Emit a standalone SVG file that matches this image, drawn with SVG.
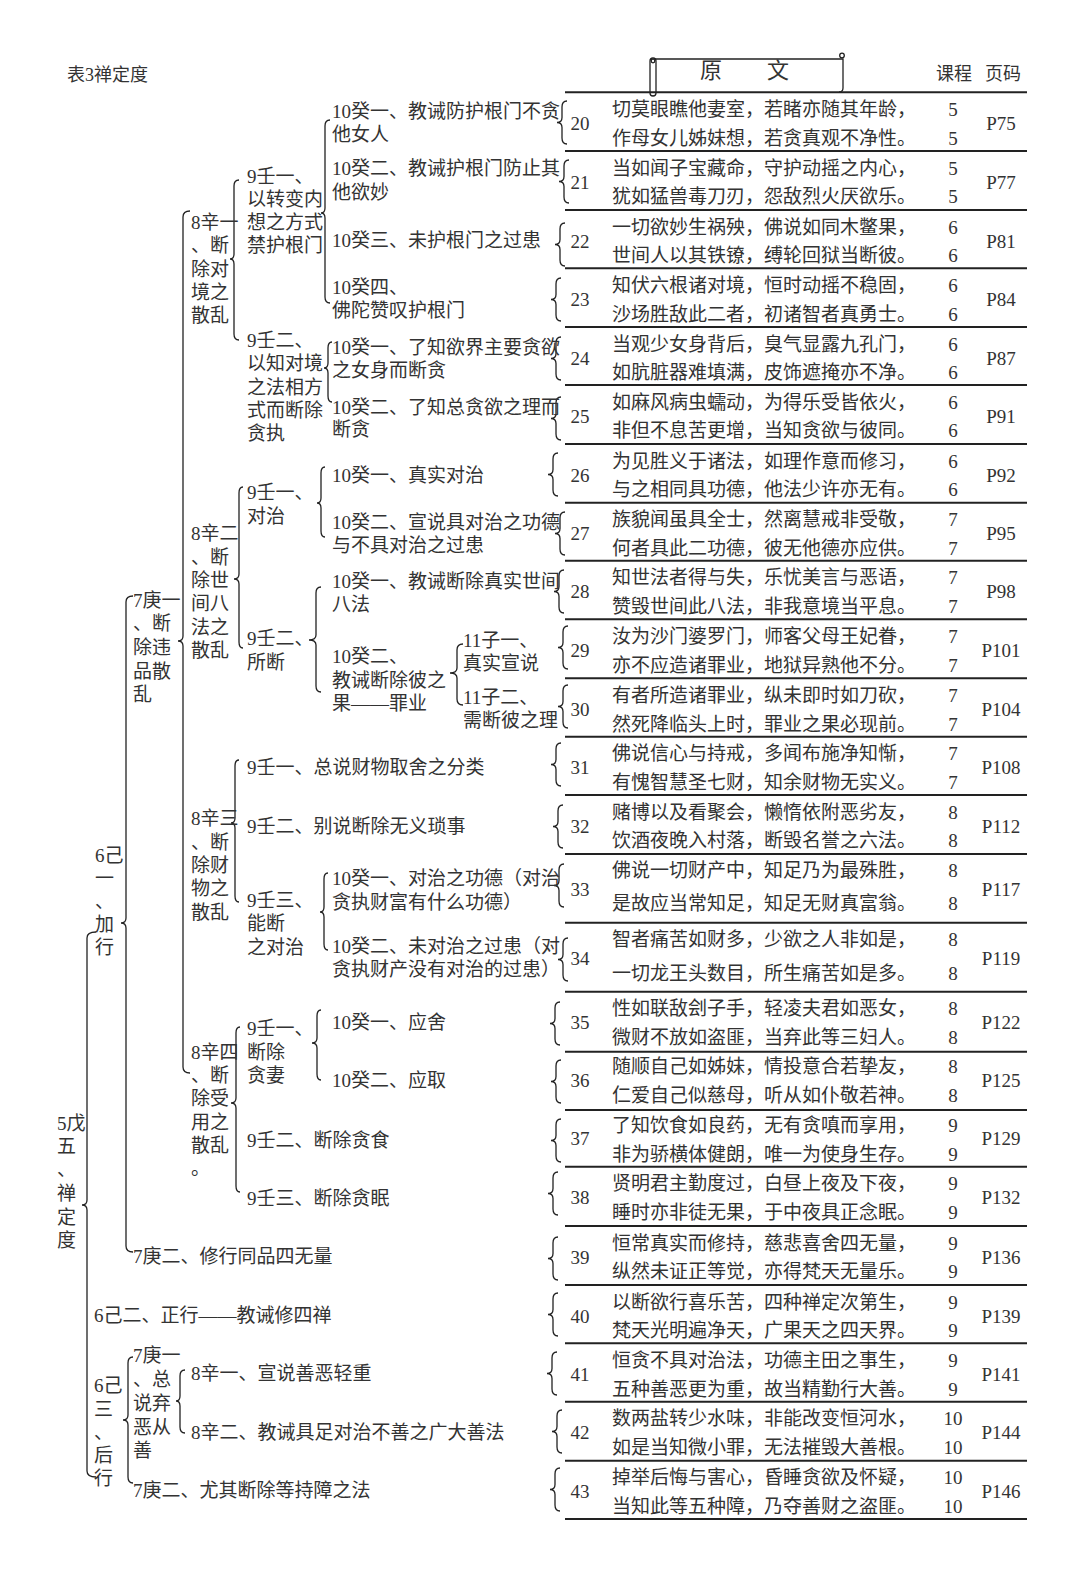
<svg xmlns="http://www.w3.org/2000/svg" width="1080" height="1572" viewBox="0 0 1080 1572">
<style>
text{font-family:"Liberation Serif","Noto Sans CJK SC",serif;fill:#333;font-size:19px}
.s{font-size:18px}
.v{font-size:19px}
.m{text-anchor:middle;font-size:19px}
.h{font-size:22px;text-anchor:middle}
.br{fill:none;stroke:#222;stroke-width:1.3}
.rl{stroke:#222;stroke-width:2}
</style>
<defs>
<path id="tb" class="br" d="M10,0 Q5,0 5,6 L5,16.5 Q5,21.5 0,21.5 Q5,21.5 5,26.5 L5,37 Q5,43 10,43"/>
</defs>
<rect width="1080" height="1572" fill="#fff"/>

<g id="title"><text class="s" x="67" y="81">表3禅定度</text></g>

<g id="header">
<path class="br" d="M655,59 H843 V88 Q843,92 839,92"/>
<circle cx="842" cy="55.5" r="2.3" class="br"/>
<rect x="650" y="58" width="6" height="38" rx="3" fill="#fff" stroke="#222" stroke-width="1.3"/>
<circle cx="653" cy="61" r="1.8" class="br"/>
<text class="h" x="711" y="78">原</text>
<text class="h" x="778" y="78">文</text>
<text class="s" x="936" y="80">课程</text>
<text class="s" x="985" y="80">页码</text>
</g>

<g id="rules">
<line class="rl" x1="565" y1="92.3" x2="1027" y2="92.3"/>
<line class="rl" x1="565" y1="151" x2="1027" y2="151"/>
<line class="rl" x1="565" y1="210" x2="1027" y2="210"/>
<line class="rl" x1="565" y1="268.3" x2="1027" y2="268.3"/>
<line class="rl" x1="565" y1="327" x2="1027" y2="327"/>
<line class="rl" x1="565" y1="385" x2="1027" y2="385"/>
<line class="rl" x1="565" y1="444" x2="1027" y2="444"/>
<line class="rl" x1="565" y1="502.7" x2="1027" y2="502.7"/>
<line class="rl" x1="565" y1="560.7" x2="1027" y2="560.7"/>
<line class="rl" x1="565" y1="619.3" x2="1027" y2="619.3"/>
<line class="rl" x1="565" y1="678.3" x2="1027" y2="678.3"/>
<line class="rl" x1="565" y1="736.7" x2="1027" y2="736.7"/>
<line class="rl" x1="565" y1="795" x2="1027" y2="795"/>
<line class="rl" x1="565" y1="854" x2="1027" y2="854"/>
<line class="rl" x1="565" y1="922.7" x2="1027" y2="922.7"/>
<line class="rl" x1="565" y1="991.7" x2="1027" y2="991.7"/>
<line class="rl" x1="565" y1="1051.7" x2="1027" y2="1051.7"/>
<line class="rl" x1="565" y1="1110" x2="1027" y2="1110"/>
<line class="rl" x1="565" y1="1166.7" x2="1027" y2="1166.7"/>
<line class="rl" x1="565" y1="1226" x2="1027" y2="1226"/>
<line class="rl" x1="565" y1="1285" x2="1027" y2="1285"/>
<line class="rl" x1="565" y1="1343.3" x2="1027" y2="1343.3"/>
<line class="rl" x1="565" y1="1401.7" x2="1027" y2="1401.7"/>
<line class="rl" x1="565" y1="1460.7" x2="1027" y2="1460.7"/>
<line class="rl" x1="565" y1="1519" x2="1027" y2="1519"/>
</g>

<g id="connectors">
<path class="br" d="M96,932 Q87,932 87,938 L87,1200 Q87,1205 82,1205 Q87,1205 87,1210 L87,1471 Q87,1477 96,1477"/>
<path class="br" d="M133,596 Q126,596 126,602 L126,918 Q126,923 121,923 Q126,923 126,928 L126,1246 Q126,1252 133,1252"/>
<path class="br" d="M133,1357 Q128,1357 128,1363 L128,1415 Q128,1420 123,1420 Q128,1420 128,1425 L128,1477 Q128,1483 133,1483"/>
<path class="br" d="M190,211 Q183,211 183,217 L183,636 Q183,641 178,641 Q183,641 183,646 L183,1067 Q183,1073 190,1073"/>
<path class="br" d="M185,1370 Q180,1370 180,1376 L180,1396 Q180,1401 176,1401 Q180,1401 180,1406 L180,1427 Q180,1433 185,1433"/>
<path class="br" d="M239,180 Q234,180 234,186 L234,254 Q234,259 230,259 Q234,259 234,264 L234,334 Q234,340 239,340"/>
<path class="br" d="M330,120 Q325,120 325,126 L325,208 Q325,213 321,213 Q325,213 325,218 L325,297 Q325,303 330,303"/>
<path class="br" d="M332,342 Q328,342 328,348 L328,363 Q328,368 324,368 Q328,368 328,373 L328,396 Q328,402 332,402"/>
<path class="br" d="M243,487 Q239,487 239,493 L239,574 Q239,579 234,579 Q239,579 239,584 L239,642 Q239,648 243,648"/>
<path class="br" d="M325,467 Q321,467 321,473 L321,498 Q321,503 317,503 Q321,503 321,508 L321,531 Q321,537 325,537"/>
<path class="br" d="M321,587 Q316,587 316,593 L316,635 Q316,640 309,640 Q316,640 316,645 L316,686 Q316,692 321,692"/>
<path class="br" d="M463,644 Q457,644 457,650 L457,668 Q457,673 450,673 Q457,673 457,678 L457,699 Q457,705 463,705"/>
<path class="br" d="M239,760 Q235,760 235,766 L235,818 Q235,823 231,823 Q235,823 235,828 L235,896 Q235,902 239,902"/>
<path class="br" d="M328,873 Q324,873 324,879 L324,907 Q324,912 320,912 Q324,912 324,917 L324,944 Q324,950 328,950"/>
<path class="br" d="M240,1027 Q236,1027 236,1033 L236,1098 Q236,1103 231,1103 Q236,1103 236,1108 L236,1186 Q236,1192 240,1192"/>
<path class="br" d="M321,1010 Q317,1010 317,1016 L317,1038 Q317,1043 312,1043 Q317,1043 317,1048 L317,1074 Q317,1080 321,1080"/>
<use href="#tb" x="557" y="101"/>
<use href="#tb" x="559" y="160"/>
<use href="#tb" x="555" y="223"/>
<use href="#tb" x="551" y="278"/>
<use href="#tb" x="551" y="337"/>
<use href="#tb" x="551" y="397"/>
<use href="#tb" x="548" y="453"/>
<use href="#tb" x="555" y="512"/>
<use href="#tb" x="554" y="570"/>
<use href="#tb" x="558" y="626"/>
<use href="#tb" x="558" y="685"/>
<use href="#tb" x="551" y="743"/>
<use href="#tb" x="553" y="805"/>
<use href="#tb" x="554" y="864"/>
<use href="#tb" x="558" y="938"/>
<use href="#tb" x="550" y="1002"/>
<use href="#tb" x="551" y="1060"/>
<use href="#tb" x="551" y="1119"/>
<use href="#tb" x="548" y="1172"/>
<use href="#tb" x="548" y="1237"/>
<use href="#tb" x="548" y="1293"/>
<use href="#tb" x="547" y="1352"/>
<use href="#tb" x="552" y="1410"/>
<use href="#tb" x="550" y="1468"/>
</g>

<g id="n-5wu"><text x="57" y="1130">5戊</text><text x="57" y="1153">五</text><text x="57" y="1176">、</text><text x="57" y="1200">禅</text><text x="57" y="1223.5">定</text><text x="57" y="1246.5">度</text></g>
<g id="n-6ji1"><text x="95" y="861.5">6己</text><text x="95" y="884.5">一</text><text x="95" y="907.5">、</text><text x="95" y="930.5">加</text><text x="95" y="953.5">行</text></g>
<g id="n-6ji2"><text x="94" y="1322">6己二、正行——教诫修四禅</text></g>
<g id="n-6ji3"><text x="94" y="1392">6己</text><text x="94" y="1416">三</text><text x="94" y="1439">、</text><text x="94" y="1462">后</text><text x="94" y="1485">行</text></g>
<g id="n-7geng1a"><text x="133" y="606.5">7庚一</text><text x="133" y="630">、断</text><text x="133" y="654">除违</text><text x="133" y="677.5">品散</text><text x="133" y="701">乱</text></g>
<g id="n-7geng2a"><text x="133" y="1263">7庚二、修行同品四无量</text></g>
<g id="n-7geng1b"><text x="133" y="1362">7庚一</text><text x="133" y="1386">、总</text><text x="133" y="1410">说弃</text><text x="133" y="1433.5">恶从</text><text x="133" y="1457">善</text></g>
<g id="n-7geng2b"><text x="133" y="1497">7庚二、尤其断除等持障之法</text></g>
<g id="n-8xin1a"><text x="191" y="229">8辛一</text><text x="191" y="252.3">、断</text><text x="191" y="275.6">除对</text><text x="191" y="299">境之</text><text x="191" y="322.3">散乱</text></g>
<g id="n-8xin2a"><text x="191" y="540.3">8辛二</text><text x="191" y="563.7">、断</text><text x="191" y="587">除世</text><text x="191" y="610.3">间八</text><text x="191" y="633.7">法之</text><text x="191" y="657">散乱</text></g>
<g id="n-8xin3"><text x="191" y="825.4">8辛三</text><text x="191" y="848.7">、断</text><text x="191" y="872">除财</text><text x="191" y="895.3">物之</text><text x="191" y="918.7">散乱</text></g>
<g id="n-8xin4"><text x="191" y="1058.7">8辛四</text><text x="191" y="1082">、断</text><text x="191" y="1105.3">除受</text><text x="191" y="1128.7">用之</text><text x="191" y="1152">散乱</text><text x="191" y="1175.3">。</text></g>
<g id="n-8xin1b"><text x="191" y="1380.3">8辛一、宣说善恶轻重</text></g>
<g id="n-8xin2b"><text x="191" y="1438.7">8辛二、教诫具足对治不善之广大善法</text></g>
<g id="n-9ren1a"><text x="247" y="182.5">9壬一、</text><text x="247" y="205.8">以转变内</text><text x="247" y="229.1">想之方式</text><text x="247" y="252.4">禁护根门</text></g>
<g id="n-9ren2a"><text x="247" y="347">9壬二、</text><text x="247" y="370.3">以知对境</text><text x="247" y="393.7">之法相方</text><text x="247" y="417">式而断除</text><text x="247" y="440.3">贪执</text></g>
<g id="n-9ren1b"><text x="247" y="498.7">9壬一、</text><text x="247" y="523">对治</text></g>
<g id="n-9ren2b"><text x="247" y="645.3">9壬二、</text><text x="247" y="668.7">所断</text></g>
<g id="n-9ren1c"><text x="247" y="773.7">9壬一、总说财物取舍之分类</text></g>
<g id="n-9ren2c"><text x="247" y="832.5">9壬二、别说断除无义琐事</text></g>
<g id="n-9ren3c"><text x="247" y="907">9壬三、</text><text x="247" y="930.3">能断</text><text x="247" y="953.7">之对治</text></g>
<g id="n-9ren1d"><text x="247" y="1035.3">9壬一、</text><text x="247" y="1058.7">断除</text><text x="247" y="1082">贪妻</text></g>
<g id="n-9ren2d"><text x="247" y="1147">9壬二、断除贪食</text></g>
<g id="n-9ren3d"><text x="247" y="1205.3">9壬三、断除贪眠</text></g>
<g id="n-10gui-a1"><text x="332" y="118">10癸一、教诫防护根门不贪</text><text x="332" y="141.3">他女人</text></g>
<g id="n-10gui-a2"><text x="332" y="175.3">10癸二、教诫护根门防止其</text><text x="332" y="198.7">他欲妙</text></g>
<g id="n-10gui-a3"><text x="332" y="247">10癸三、未护根门之过患</text></g>
<g id="n-10gui-a4"><text x="332" y="293.7">10癸四、</text><text x="332" y="317">佛陀赞叹护根门</text></g>
<g id="n-10gui-b1"><text x="332" y="353.7">10癸一、了知欲界主要贪欲</text><text x="332" y="377">之女身而断贪</text></g>
<g id="n-10gui-b2"><text x="332" y="413.7">10癸二、了知总贪欲之理而</text><text x="332" y="436">断贪</text></g>
<g id="n-10gui-c1"><text x="332" y="482">10癸一、真实对治</text></g>
<g id="n-10gui-c2"><text x="332" y="528.7">10癸二、宣说具对治之功德</text><text x="332" y="552">与不具对治之过患</text></g>
<g id="n-10gui-d1"><text x="332" y="588">10癸一、教诫断除真实世间</text><text x="332" y="611">八法</text></g>
<g id="n-10gui-d2"><text x="332" y="663">10癸二、</text><text x="332" y="686.5">教诫断除彼之</text><text x="332" y="710">果——罪业</text></g>
<g id="n-11zi1"><text x="463" y="647">11子一、</text><text x="463" y="670">真实宣说</text></g>
<g id="n-11zi2"><text x="463" y="704">11子二、</text><text x="463" y="727">需断彼之理</text></g>
<g id="n-10gui-e1"><text x="332" y="885.3">10癸一、对治之功德（对治</text><text x="332" y="908.7">贪执财富有什么功德）</text></g>
<g id="n-10gui-e2"><text x="332" y="952.5">10癸二、未对治之过患（对</text><text x="332" y="975.5">贪执财产没有对治的过患）</text></g>
<g id="n-10gui-f1"><text x="332" y="1028.7">10癸一、应舍</text></g>
<g id="n-10gui-f2"><text x="332" y="1087">10癸二、应取</text></g>

<g id="row20"><text class="m" x="580" y="130">20</text><text class="v" x="612" y="115.8">切莫眼瞧他妻室，若睹亦随其年龄，</text><text class="v" x="612" y="144.5">作母女儿姊妹想，若贪真观不净性。</text><text class="m" x="953" y="115.8">5</text><text class="m" x="953" y="144.5">5</text><text class="m" x="1001" y="130">P75</text></g>
<g id="row21"><text class="m" x="580" y="188.7">21</text><text class="v" x="612" y="174.5">当如闻子宝藏命，守护动摇之内心，</text><text class="v" x="612" y="203.2">犹如猛兽毒刀刃，怨敌烈火厌欲乐。</text><text class="m" x="953" y="174.5">5</text><text class="m" x="953" y="203.2">5</text><text class="m" x="1001" y="188.7">P77</text></g>
<g id="row22"><text class="m" x="580" y="247.7">22</text><text class="v" x="612" y="233.5">一切欲妙生祸殃，佛说如同木鳖果，</text><text class="v" x="612" y="262.2">世间人以其铁镣，缚轮回狱当断彼。</text><text class="m" x="953" y="233.5">6</text><text class="m" x="953" y="262.2">6</text><text class="m" x="1001" y="247.7">P81</text></g>
<g id="row23"><text class="m" x="580" y="306">23</text><text class="v" x="612" y="291.8">知伏六根诸对境，恒时动摇不稳固，</text><text class="v" x="612" y="320.5">沙场胜敌此二者，初诸智者真勇士。</text><text class="m" x="953" y="291.8">6</text><text class="m" x="953" y="320.5">6</text><text class="m" x="1001" y="306">P84</text></g>
<g id="row24"><text class="m" x="580" y="364.7">24</text><text class="v" x="612" y="350.5">当观少女身背后，臭气显露九孔门，</text><text class="v" x="612" y="379.2">如肮脏器难填满，皮饰遮掩亦不净。</text><text class="m" x="953" y="350.5">6</text><text class="m" x="953" y="379.2">6</text><text class="m" x="1001" y="364.7">P87</text></g>
<g id="row25"><text class="m" x="580" y="422.7">25</text><text class="v" x="612" y="408.5">如麻风病虫蠕动，为得乐受皆依火，</text><text class="v" x="612" y="437.2">非但不息苦更增，当知贪欲与彼同。</text><text class="m" x="953" y="408.5">6</text><text class="m" x="953" y="437.2">6</text><text class="m" x="1001" y="422.7">P91</text></g>
<g id="row26"><text class="m" x="580" y="481.7">26</text><text class="v" x="612" y="467.5">为见胜义于诸法，如理作意而修习，</text><text class="v" x="612" y="496.2">与之相同具功德，他法少许亦无有。</text><text class="m" x="953" y="467.5">6</text><text class="m" x="953" y="496.2">6</text><text class="m" x="1001" y="481.7">P92</text></g>
<g id="row27"><text class="m" x="580" y="540.4">27</text><text class="v" x="612" y="526.2">族貌闻虽具全士，然离慧戒非受敬，</text><text class="v" x="612" y="554.9">何者具此二功德，彼无他德亦应供。</text><text class="m" x="953" y="526.2">7</text><text class="m" x="953" y="554.9">7</text><text class="m" x="1001" y="540.4">P95</text></g>
<g id="row28"><text class="m" x="580" y="598.4">28</text><text class="v" x="612" y="584.2">知世法者得与失，乐忧美言与恶语，</text><text class="v" x="612" y="612.9">赞毁世间此八法，非我意境当平息。</text><text class="m" x="953" y="584.2">7</text><text class="m" x="953" y="612.9">7</text><text class="m" x="1001" y="598.4">P98</text></g>
<g id="row29"><text class="m" x="580" y="657">29</text><text class="v" x="612" y="642.8">汝为沙门婆罗门，师客父母王妃眷，</text><text class="v" x="612" y="671.5">亦不应造诸罪业，地狱异熟他不分。</text><text class="m" x="953" y="642.8">7</text><text class="m" x="953" y="671.5">7</text><text class="m" x="1001" y="657">P101</text></g>
<g id="row30"><text class="m" x="580" y="716">30</text><text class="v" x="612" y="701.8">有者所造诸罪业，纵未即时如刀砍，</text><text class="v" x="612" y="730.5">然死降临头上时，罪业之果必现前。</text><text class="m" x="953" y="701.8">7</text><text class="m" x="953" y="730.5">7</text><text class="m" x="1001" y="716">P104</text></g>
<g id="row31"><text class="m" x="580" y="774.4">31</text><text class="v" x="612" y="760.2">佛说信心与持戒，多闻布施净知惭，</text><text class="v" x="612" y="788.9">有愧智慧圣七财，知余财物无实义。</text><text class="m" x="953" y="760.2">7</text><text class="m" x="953" y="788.9">7</text><text class="m" x="1001" y="774.4">P108</text></g>
<g id="row32"><text class="m" x="580" y="832.7">32</text><text class="v" x="612" y="818.5">赌博以及看聚会，懒惰依附恶劣友，</text><text class="v" x="612" y="847.2">饮酒夜晚入村落，断毁名誉之六法。</text><text class="m" x="953" y="818.5">8</text><text class="m" x="953" y="847.2">8</text><text class="m" x="1001" y="832.7">P112</text></g>
<g id="row33"><text class="m" x="580" y="896">33</text><text class="v" x="612" y="877">佛说一切财产中，知足乃为最殊胜，</text><text class="v" x="612" y="910">是故应当常知足，知足无财真富翁。</text><text class="m" x="953" y="877">8</text><text class="m" x="953" y="910">8</text><text class="m" x="1001" y="896">P117</text></g>
<g id="row34"><text class="m" x="580" y="965">34</text><text class="v" x="612" y="946.3">智者痛苦如财多，少欲之人非如是，</text><text class="v" x="612" y="979.7">一切龙王头数目，所生痛苦如是多。</text><text class="m" x="953" y="946.3">8</text><text class="m" x="953" y="979.7">8</text><text class="m" x="1001" y="965">P119</text></g>
<g id="row35"><text class="m" x="580" y="1029.4">35</text><text class="v" x="612" y="1015.2">性如联敌刽子手，轻凌夫君如恶女，</text><text class="v" x="612" y="1043.9">微财不放如盗匪，当弃此等三妇人。</text><text class="m" x="953" y="1015.2">8</text><text class="m" x="953" y="1043.9">8</text><text class="m" x="1001" y="1029.4">P122</text></g>
<g id="row36"><text class="m" x="580" y="1087.4">36</text><text class="v" x="612" y="1073.2">随顺自己如姊妹，情投意合若挚友，</text><text class="v" x="612" y="1101.9">仁爱自己似慈母，听从如仆敬若神。</text><text class="m" x="953" y="1073.2">8</text><text class="m" x="953" y="1101.9">8</text><text class="m" x="1001" y="1087.4">P125</text></g>
<g id="row37"><text class="m" x="580" y="1145">37</text><text class="v" x="612" y="1132">了知饮食如良药，无有贪嗔而享用，</text><text class="v" x="612" y="1161">非为骄横体健朗，唯一为使身生存。</text><text class="m" x="953" y="1132">9</text><text class="m" x="953" y="1161">9</text><text class="m" x="1001" y="1145">P129</text></g>
<g id="row38"><text class="m" x="580" y="1204.4">38</text><text class="v" x="612" y="1190.2">贤明君主勤度过，白昼上夜及下夜，</text><text class="v" x="612" y="1218.9">睡时亦非徒无果，于中夜具正念眠。</text><text class="m" x="953" y="1190.2">9</text><text class="m" x="953" y="1218.9">9</text><text class="m" x="1001" y="1204.4">P132</text></g>
<g id="row39"><text class="m" x="580" y="1263.7">39</text><text class="v" x="612" y="1249.5">恒常真实而修持，慈悲喜舍四无量，</text><text class="v" x="612" y="1278.2">纵然未证正等觉，亦得梵天无量乐。</text><text class="m" x="953" y="1249.5">9</text><text class="m" x="953" y="1278.2">9</text><text class="m" x="1001" y="1263.7">P136</text></g>
<g id="row40"><text class="m" x="580" y="1322.7">40</text><text class="v" x="612" y="1308.5">以断欲行喜乐苦，四种禅定次第生，</text><text class="v" x="612" y="1337.2">梵天光明遍净天，广果天之四天界。</text><text class="m" x="953" y="1308.5">9</text><text class="m" x="953" y="1337.2">9</text><text class="m" x="1001" y="1322.7">P139</text></g>
<g id="row41"><text class="m" x="580" y="1381">41</text><text class="v" x="612" y="1366.8">恒贪不具对治法，功德主田之事生，</text><text class="v" x="612" y="1395.5">五种善恶更为重，故当精勤行大善。</text><text class="m" x="953" y="1366.8">9</text><text class="m" x="953" y="1395.5">9</text><text class="m" x="1001" y="1381">P141</text></g>
<g id="row42"><text class="m" x="580" y="1439.4">42</text><text class="v" x="612" y="1425.2">数两盐转少水味，非能改变恒河水，</text><text class="v" x="612" y="1453.9">如是当知微小罪，无法摧毁大善根。</text><text class="m" x="953" y="1425.2">10</text><text class="m" x="953" y="1453.9">10</text><text class="m" x="1001" y="1439.4">P144</text></g>
<g id="row43"><text class="m" x="580" y="1498.4">43</text><text class="v" x="612" y="1484.2">掉举后悔与害心，昏睡贪欲及怀疑，</text><text class="v" x="612" y="1512.9">当知此等五种障，乃夺善财之盗匪。</text><text class="m" x="953" y="1484.2">10</text><text class="m" x="953" y="1512.9">10</text><text class="m" x="1001" y="1498.4">P146</text></g>
</svg>
